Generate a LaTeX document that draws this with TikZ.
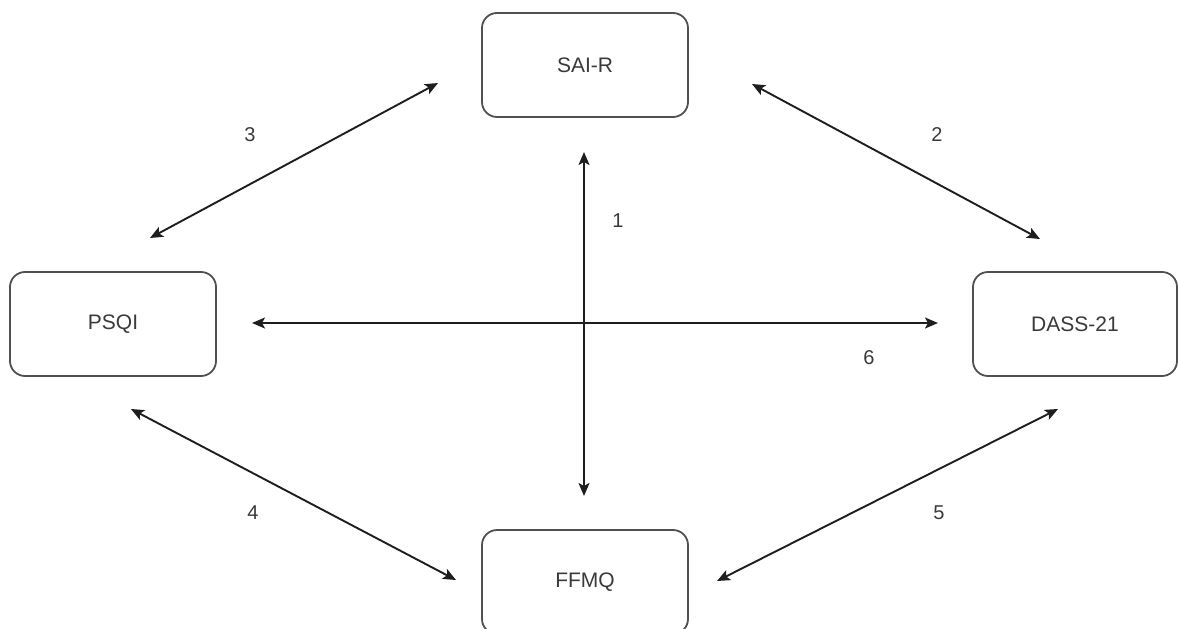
\documentclass[tikz,border=0pt]{standalone}
\usepackage{fontspec}
\setmainfont{Liberation Sans}
\usetikzlibrary{arrows.meta}
\definecolor{txt}{HTML}{3A3A3A}
\definecolor{edge}{HTML}{505050}
\definecolor{arr}{HTML}{1E1E1E}
\tikzset{
  box/.style={draw=edge, line width=1.8pt, rounded corners=15pt, minimum width=206pt, minimum height=104pt, inner sep=0pt, text=txt, font=\fontsize{21}{25}\selectfont},
  lbl/.style={text=txt, font=\fontsize{20}{24}\selectfont, inner sep=0pt},
  link/.style={draw=arr, line width=1.9pt, {Stealth[length=13pt,width=11pt,inset=3pt]}-{Stealth[length=13pt,width=11pt,inset=3pt]}}
}
\begin{document}
\begin{tikzpicture}[x=1pt,y=-1pt]
\clip (0,0) rectangle (1178,629);
\fill[white] (0,0) rectangle (1178,629);
\node[box] (sai) at (585,65) {SAI-R};
\node[box] (psqi) at (113,324) {PSQI};
\node[box, minimum width=204pt] (dass) at (1075,324) {DASS-21};
\node[box] (ffmq) at (585,582) {FFMQ};
% connector end points
\coordinate (v1a) at (584,152);
\coordinate (v1b) at (584,496);
\coordinate (a2a) at (752,84);
\coordinate (a2b) at (1040,239);
\coordinate (a3a) at (438,83);
\coordinate (a3b) at (150,238);
\coordinate (a4a) at (131,409);
\coordinate (a4b) at (456,580);
\coordinate (a5a) at (1058,409);
\coordinate (a5b) at (717,581);
\coordinate (a6a) at (252,323);
\coordinate (a6b) at (938,323);
\draw[link] (v1a) -- (v1b);
\draw[link] (a2a) -- (a2b);
\draw[link] (a3a) -- (a3b);
\draw[link] (a4a) -- (a4b);
\draw[link] (a5a) -- (a5b);
\draw[link] (a6a) -- (a6b);
\node[lbl] (l1) at (618,221) {1};
\node[lbl] (l2) at (937,135) {2};
\node[lbl] (l3) at (250,135) {3};
\node[lbl] (l4) at (253,513) {4};
\node[lbl] (l5) at (939,513) {5};
\node[lbl] (l6) at (869,358) {6};
\end{tikzpicture}
\end{document}
